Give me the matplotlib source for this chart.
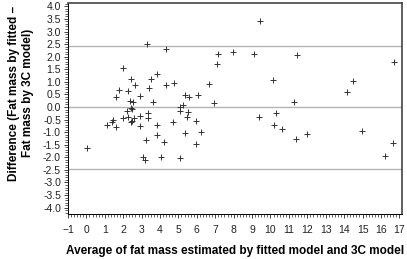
import matplotlib.pyplot as plt
import numpy as np
from matplotlib.ticker import MultipleLocator

# Bland-Altman data: average of the two methods vs their difference
avg_fat = [3.27, 4.30, 1.98, 3.85, 2.40, 3.49, 4.75, 4.30, 2.66, 1.75,
           2.28, 3.40, 2.89, 1.60, 2.36, 2.55, 3.60, 2.44, 5.09, 5.27,
           9.42, 7.14, 7.99, 9.08, 7.07, 10.11, 6.67, 5.33, 5.55, 6.05,
           6.92, 11.45, 16.69, 14.46, 14.14, 11.30, 5.06, 2.19, 2.46, 3.36,
           3.36, 2.91, 2.00, 2.28, 2.60, 2.46, 2.40, 1.43, 1.37, 1.12,
           1.60, 2.91, 3.85, 4.70, 3.83, 3.25, 4.23, 0.01, 3.07, 3.16,
           4.03, 5.08, 5.51, 5.44, 5.93, 5.35, 6.24, 5.98, 9.36, 10.32,
           10.18, 10.61, 11.39, 12.00, 14.99, 16.20, 16.63]
diff_fat = [2.52, 2.30, 1.56, 1.33, 1.12, 1.12, 0.94, 0.88, 0.88, 0.67,
            0.63, 0.74, 0.45, 0.40, 0.24, 0.18, 0.21, -0.04, 0.01, 0.06,
            3.42, 2.09, 2.17, 2.09, 1.69, 1.06, 0.90, 0.49, 0.40, 0.48,
            0.16, 2.07, 1.78, 1.03, 0.59, 0.21, -0.14, -0.15, -0.08, -0.25,
            -0.45, -0.34, -0.42, -0.41, -0.44, -0.54, -0.61, -0.53, -0.58, -0.73,
            -0.78, -0.75, -0.70, -0.61, -1.10, -1.33, -1.40, -1.64, -1.97, -2.11,
            -1.98, -2.03, -0.18, -0.41, -0.55, -1.02, -1.00, -1.47, -0.40, -0.22,
            -0.73, -0.86, -1.29, -1.07, -0.96, -1.93, -1.43]

mean_diff = 0.0
upper_limit = 2.44
lower_limit = -2.46

plt.rcParams['font.family'] = ['Liberation Sans', 'DejaVu Sans']

fig = plt.figure(figsize=(4.07, 2.59), dpi=100)
ax = fig.add_axes([0.167, 0.174, 0.821, 0.816])

for lvl in (upper_limit, mean_diff, lower_limit):
    ax.axhline(lvl, color='#b4b4b4', linewidth=1.0, zorder=1)

ax.plot(avg_fat, diff_fat, linestyle='none', marker='+', markersize=4.5,
        markeredgewidth=0.7, color='#333333', zorder=3)

ax.set_xlim(-1.0, 17.15)
ax.set_ylim(-4.25, 4.15)
ax.set_xticks(np.arange(-1, 18, 1))
ax.set_yticks(np.arange(-4.0, 4.01, 0.5))
ax.set_yticklabels([f"{v:.1f}" for v in np.arange(-4.0, 4.01, 0.5)])
ax.xaxis.set_minor_locator(MultipleLocator(1 / 6))
ax.yaxis.set_minor_locator(MultipleLocator(0.1))
ax.tick_params(which='major', direction='out', length=3, width=0.6,
               labelsize=7.5, pad=2, colors='#222222')
ax.tick_params(axis='x', which='major', pad=5)
ax.tick_params(which='minor', direction='out', length=2, width=0.5, colors='#222222')

for side in ('left', 'bottom'):
    ax.spines[side].set_linewidth(0.7)
for side in ('right', 'top'):
    ax.spines[side].set_linewidth(1.2)
    ax.spines[side].set_color('#444444')

ax.set_xlabel("Average of fat mass estimated by fitted model and 3C model",
              fontsize=8.5, fontweight='bold', labelpad=7)
fig.text(0.052, 0.64, "Difference (Fat mass by fitted –\nFat mass by 3C model)",
         rotation=90, ha='center', va='center', multialignment='center',
         fontsize=8.5, fontweight='bold')

fig.savefig("out.png", dpi=100)
